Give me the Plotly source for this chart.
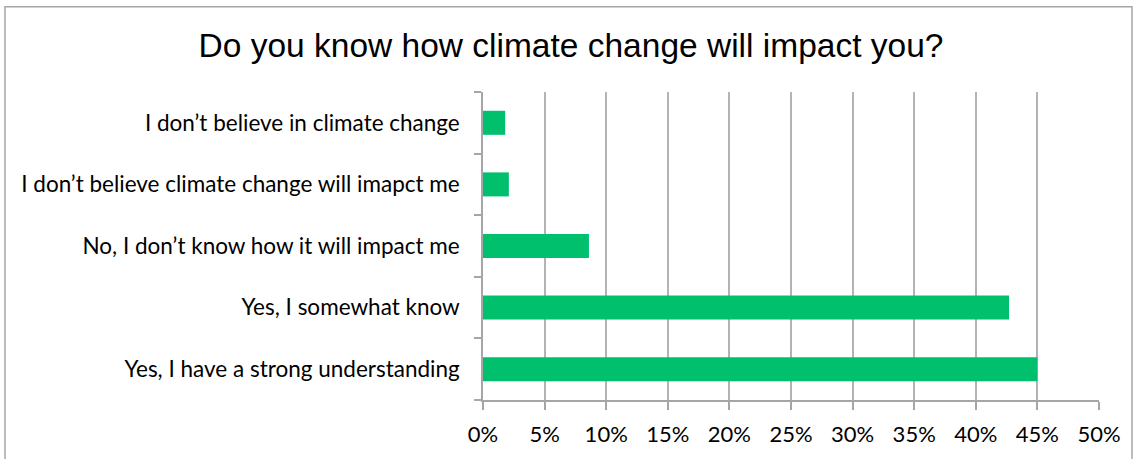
import plotly.graph_objects as go

categories = [
    "Yes, I have a strong understanding",
    "Yes, I somewhat know",
    "No, I don\u2019t know how it will impact me",
    "I don\u2019t believe climate change will imapct me",
    "I don\u2019t believe in climate change",
]
values = [0.45, 0.427, 0.086, 0.021, 0.018]
tick_vals = [0, 0.05, 0.10, 0.15, 0.20, 0.25, 0.30, 0.35, 0.40, 0.45, 0.50]
tick_text = ["0%", "5%", "10%", "15%", "20%", "25%", "30%", "35%", "40%", "45%", "50%"]

W, H = 1138, 459
L, R, T, B = 483, 39, 92, 56
pw, ph = W - L - R, H - T - B

fig = go.Figure(go.Bar(
    y=categories, x=values, orientation="h",
    marker=dict(color="#00C06E", line=dict(width=0)),
    width=0.39,
))

fig.update_layout(
    width=W, height=H,
    margin=dict(l=L, r=R, t=T, b=B),
    paper_bgcolor="white", plot_bgcolor="white",
    title=dict(text="Do you know how climate change will impact you?",
               x=(571) / W, xanchor="center", y=1 - 45 / H, yanchor="middle",
               font=dict(family="Liberation Sans", size=33.5, color="#000000")),
    font=dict(family="Lato", size=22.5, color="#000000"),
    showlegend=False,
    bargap=0.6,
)
fig.update_xaxes(
    range=[0, 0.5], tickvals=tick_vals, ticktext=tick_text,
    showgrid=True, gridcolor="#b3b3b3", gridwidth=1.5,
    showline=True, linecolor="#a6a6a6", linewidth=1.5,
    ticks="outside", ticklen=8, tickcolor="#a6a6a6", tickwidth=1.5,
    zeroline=False, tickfont=dict(size=22, family="Lato"), ticklabelstandoff=6,
)
fig.update_yaxes(
    type="category", categoryorder="array", categoryarray=categories,
    showgrid=False, showline=True, linecolor="#a6a6a6", linewidth=1.5,
    ticks="outside", tickson="boundaries", ticklen=7, tickcolor="#a6a6a6", tickwidth=1.5,
    tickfont=dict(size=22.5, family="Lato"), ticklabelstandoff=17,
)
# outer chart border
fig.add_shape(type="rect", xref="paper", yref="paper",
              x0=(5 - L) / pw, x1=(1132 - L) / pw,
              y0=(H - B - 470) / ph, y1=(H - B - 6) / ph,
              line=dict(color="#a6a6a6", width=1.5), fillcolor="rgba(0,0,0,0)", layer="below")

fig.write_html("out.html", config={"displayModeBar": False},
               post_script="document.body.style.margin='0';document.body.style.overflow='hidden';")
